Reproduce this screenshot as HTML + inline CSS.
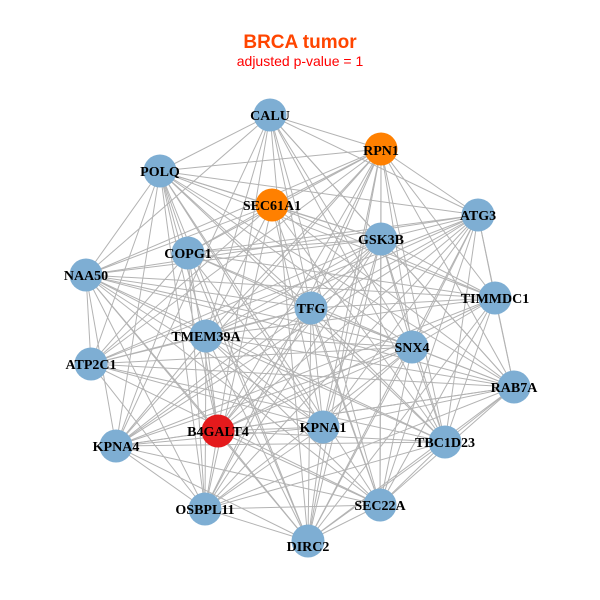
<!DOCTYPE html>
<html><head><meta charset="utf-8"><style>
html,body{margin:0;padding:0;background:#fff;width:600px;height:600px;overflow:hidden}
svg text{font-family:"Liberation Serif",serif;font-weight:bold;font-size:14px;fill:#000}
</style></head><body>
<svg id="s" width="600" height="600" xmlns="http://www.w3.org/2000/svg">
<text x="300" y="48" text-anchor="middle" style="font-family:'Liberation Sans',sans-serif;font-size:19px;fill:#ff4500">BRCA tumor</text>
<text x="300" y="66" text-anchor="middle" style="font-family:'Liberation Sans',sans-serif;font-weight:normal;font-size:14px;fill:#ff0000">adjusted p-value = 1</text>
<g id="e" stroke="#b3b3b3" stroke-width="1"></g>
<g id="n"></g>
<g id="l">
<text x="270" y="120" text-anchor="middle">CALU</text>
<text x="381" y="155" text-anchor="middle">RPN1</text>
<text x="160" y="176" text-anchor="middle">POLQ</text>
<text x="272" y="210" text-anchor="middle">SEC61A1</text>
<text x="381" y="244" text-anchor="middle">GSK3B</text>
<text x="478" y="220" text-anchor="middle">ATG3</text>
<text x="188" y="258" text-anchor="middle">COPG1</text>
<text x="86" y="280" text-anchor="middle">NAA50</text>
<text x="311" y="313" text-anchor="middle">TFG</text>
<text x="495" y="303" text-anchor="middle">TIMMDC1</text>
<text x="206" y="341" text-anchor="middle">TMEM39A</text>
<text x="412" y="352" text-anchor="middle">SNX4</text>
<text x="91" y="369" text-anchor="middle">ATP2C1</text>
<text x="514" y="392" text-anchor="middle">RAB7A</text>
<text x="218" y="436" text-anchor="middle">B4GALT4</text>
<text x="323" y="432" text-anchor="middle">KPNA1</text>
<text x="445" y="447" text-anchor="middle">TBC1D23</text>
<text x="116" y="451" text-anchor="middle">KPNA4</text>
<text x="205" y="514" text-anchor="middle">OSBPL11</text>
<text x="380" y="510" text-anchor="middle">SEC22A</text>
<text x="308" y="551" text-anchor="middle">DIRC2</text>
</g>
</svg>
<script>
var P=[[270,115,'b'],[381,149,'o'],[160,171,'b'],[272,205,'o'],[381,239,'b'],[478,215,'b'],[188,253,'b'],[86,275,'b'],[311,308,'b'],[495,298,'b'],[206,336,'b'],[412,347,'b'],[91,364,'b'],[514,387,'b'],[218,431,'r'],[323,427,'b'],[445,442,'b'],[116,446,'b'],[205,509,'b'],[380,505,'b'],[308,541,'b']];
var ns="http://www.w3.org/2000/svg",e=document.getElementById('e'),n=document.getElementById('n');
for(var i=0;i<P.length;i++)for(var j=i+1;j<P.length;j++){
 if((i*7+j*3)%9==0)continue;
 var L=document.createElementNS(ns,'line');L.setAttribute('x1',P[i][0]);L.setAttribute('y1',P[i][1]);L.setAttribute('x2',P[j][0]);L.setAttribute('y2',P[j][1]);e.appendChild(L);}
var C={b:'#7eaed3',o:'#ff8000',r:'#e41a1c'};
P.forEach(function(p){var c=document.createElementNS(ns,'circle');c.setAttribute('cx',p[0]);c.setAttribute('cy',p[1]);c.setAttribute('r',16.5);c.setAttribute('fill',C[p[2]]);n.appendChild(c);});
</script>
</body></html>
